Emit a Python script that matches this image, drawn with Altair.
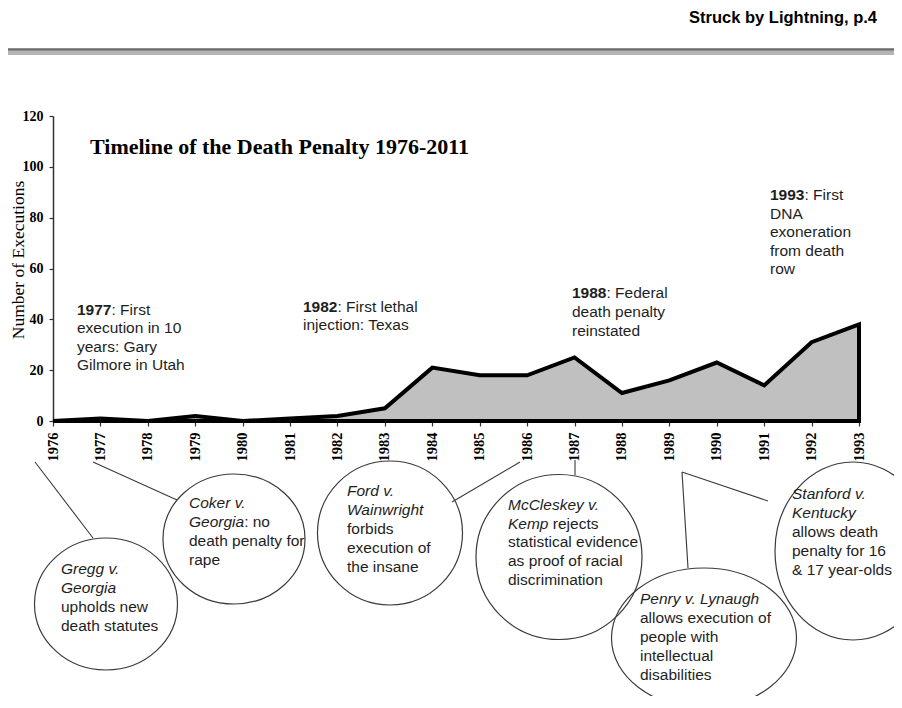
import altair as alt
import pandas as pd

# ---------------- data ----------------
years = list(range(1976, 1994))
executions = [0, 1, 0, 2, 0, 1, 2, 5, 21, 18, 18, 25, 11, 16, 23, 14, 31, 38]
y_ticks = [0, 20, 40, 60, 80, 100, 120]

header_text = "Struck by Lightning, p.4"
title_text = "Timeline of the Death Penalty 1976-2011"
y_title_text = "Number of Executions"

# event notes above the curve: lines of (text, style) segments
note_1977 = [[("1977", "bold"), (": First", "normal")], [("execution in 10", "normal")],
             [("years: Gary", "normal")], [("Gilmore in Utah", "normal")]]
note_1982 = [[("1982", "bold"), (": First lethal", "normal")], [("injection: Texas", "normal")]]
note_1988 = [[("1988", "bold"), (": Federal", "normal")], [("death penalty", "normal")],
             [("reinstated", "normal")]]
note_1993 = [[("1993", "bold"), (": First", "normal")], [("DNA", "normal")], [("exoneration", "normal")],
             [("from death", "normal")], [("row", "normal")]]

# court cases in the bubbles
case_gregg = [[("Gregg v.", "italic")], [("Georgia", "italic")], [("upholds new", "normal")],
              [("death statutes", "normal")]]
case_coker = [[("Coker v.", "italic")], [("Georgia", "italic"), (": no", "normal")],
              [("death penalty for", "normal")], [("rape", "normal")]]
case_ford = [[("Ford v.", "italic")], [("Wainwright", "italic")], [("forbids", "normal")],
             [("execution of", "normal")], [("the insane", "normal")]]
case_mccleskey = [[("McCleskey v.", "italic")], [("Kemp ", "italic"), ("rejects", "normal")],
                  [("statistical evidence", "normal")], [("as proof of racial", "normal")],
                  [("discrimination", "normal")]]
case_penry = [[("Penry v. Lynaugh", "italic")], [("allows execution of", "normal")],
              [("people with", "normal")], [("intellectual", "normal")], [("disabilities", "normal")]]
case_stanford = [[("Stanford v.", "italic")], [("Kentucky", "italic")], [("allows death", "normal")],
                 [("penalty for 16", "normal")], [("& 17 year-olds", "normal")]]

# ---------------- layout (page pixels) ----------------
OX, OY = 53, 116          # page position of plot-area origin
PW, PH = 806, 305         # plot area size
SANS = "Liberation Sans"
SERIF = "Liberation Serif"
FS = 15.5
INK = "#1e1e1e"
LINE = "#3a3a3a"

EM = {"0": .556, "1": .556, "2": .556, "3": .556, "4": .556, "5": .556, "6": .556, "7": .556,
      "8": .556, "9": .556, "G": .778, "e": .556, "o": .556, "r": .333, "g": .556, "i": .222,
      "a": .556, "K": .667, "m": .833, "p": .556, " ": .278}


def text_width(s):
    return sum(EM.get(c, .556) for c in s) * FS


text_blocks = [
    (note_1977, 77, [309.5, 328, 346.5, 365]),
    (note_1982, 303, [306.5, 325]),
    (note_1988, 572, [293, 312, 331]),
    (note_1993, 770, [195, 213.5, 232, 250.5, 269]),
    (case_gregg, 61, [568.5, 587.5, 606.5, 625.5]),
    (case_coker, 189, [503, 522, 541, 560]),
    (case_ford, 347, [491, 510, 529, 548, 567]),
    (case_mccleskey, 508, [505, 523.5, 542, 561, 579.5]),
    (case_penry, 640, [599, 618, 637, 656, 675]),
    (case_stanford, 792, [494, 513, 532, 551, 570]),
]

rows = []
for lines, x0, ys in text_blocks:
    for line, y in zip(lines, ys):
        x = x0
        for t, s in line:
            rows.append({"px": x - OX, "py": y - OY, "t": t.strip(), "s": s})
            x += text_width(t)
seg_df = pd.DataFrame(rows)

# bubbles: centre x, centre y, width, height (page px)
bubble_cx = [106, 234, 390, 559, 704, 853]
bubble_cy = [604, 539, 533, 557, 638, 551]
bubble_w = [143, 142, 145, 166, 185, 156]
bubble_h = [132, 130, 144, 165, 140, 178]


def ellipse_path(w, h):
    r = h / w
    return f"M -1 0 A 1 {r:.4f} 0 1 1 1 0 A 1 {r:.4f} 0 1 1 -1 0 Z"


bub_df = pd.DataFrame({
    "px": [c - OX for c in bubble_cx],
    "py": [c - OY for c in bubble_cy],
    "shape": [ellipse_path(w, h) for w, h in zip(bubble_w, bubble_h)],
    "sz": [w * w for w in bubble_w],
})

# connectors from year labels to bubbles (page px)
conn_x1 = [35, 93, 520, 575, 682, 682]
conn_y1 = [462, 462, 462, 460, 472, 472]
conn_x2 = [93, 177, 452, 575, 688, 768]
conn_y2 = [538, 500, 502, 475, 568, 501]
conn_df = pd.DataFrame({
    "px": [v - OX for v in conn_x1], "py": [v - OY for v in conn_y1],
    "px2": [v - OX for v in conn_x2], "py2": [v - OY for v in conn_y2],
})

df = pd.DataFrame({"year": years, "executions": executions})

# ---------------- chart ----------------
area = alt.Chart(df).mark_area(
    color="#c0c0c0", stroke="black", strokeWidth=4, strokeJoin="miter", opacity=1
).encode(
    x=alt.X("year:Q", scale=alt.Scale(domain=[1976, 1993], nice=False, zero=False),
            axis=alt.Axis(values=years, format="d", labelAngle=270, title=None, grid=False,
                          labelFont=SERIF, labelFontWeight="bold", labelFontSize=14.5,
                          labelColor="black", tickSize=5, labelPadding=6, tickColor="#333",
                          domainColor="#333", domainWidth=1.5, tickWidth=1.2)),
    y=alt.Y("executions:Q", scale=alt.Scale(domain=[0, 120], nice=False),
            axis=alt.Axis(values=y_ticks, title=None, grid=False, labelFont=SERIF,
                          labelFontWeight="bold", labelFontSize=14, labelColor="black",
                          tickSize=4, labelPadding=6, tickColor="#333", domainColor="#333",
                          domainWidth=1.5, tickWidth=1.2)),
)

PX = alt.X("px:Q", scale=None, axis=None)
PY = alt.Y("py:Q", scale=None, axis=None)


def seg_layer(style):
    kw = dict(align="left", baseline="middle", font=SANS, fontSize=FS, color=INK)
    if style == "bold":
        kw["fontWeight"] = "bold"
    if style == "italic":
        kw["fontStyle"] = "italic"
    return alt.Chart(seg_df).transform_filter(alt.datum.s == style).mark_text(**kw).encode(
        x=PX, y=PY, text="t:N")


bubbles = alt.Chart(bub_df).mark_point(
    filled=False, opacity=1, stroke=LINE, strokeWidth=1.2
).encode(x=PX, y=PY, shape=alt.Shape("shape:N", scale=None, legend=None),
         size=alt.Size("sz:Q", scale=None, legend=None))

connectors = alt.Chart(conn_df).mark_rule(color=LINE, strokeWidth=1.1).encode(
    x=PX, y=PY, x2="px2:Q", y2="py2:Q")

header = alt.Chart(pd.DataFrame({"px": [877 - OX], "py": [17.5 - OY], "t": [header_text]})).mark_text(
    align="right", baseline="middle", font=SANS, fontSize=16.5, fontWeight="bold", color="black"
).encode(x=PX, y=PY, text="t:N")

rule_df = pd.DataFrame({"px": [8 - OX, 8 - OX], "px2": [894 - OX, 894 - OX],
                        "py": [49.5 - OY, 53 - OY], "w": ["dark", "light"]})
header_dark = alt.Chart(rule_df).transform_filter(alt.datum.w == "dark").mark_rule(
    color="#6a6a6a", strokeWidth=2.5).encode(x=PX, x2="px2:Q", y=PY)
header_light = alt.Chart(rule_df).transform_filter(alt.datum.w == "light").mark_rule(
    color="#b4b4b4", strokeWidth=4).encode(x=PX, x2="px2:Q", y=PY)

title = alt.Chart(pd.DataFrame({"px": [90 - OX], "py": [147 - OY], "t": [title_text]})).mark_text(
    align="left", baseline="middle", font=SERIF, fontSize=22, fontWeight="bold", color="black"
).encode(x=PX, y=PY, text="t:N")

ytitle = alt.Chart(pd.DataFrame({"px": [18.5 - OX], "py": [260 - OY], "t": [y_title_text]})).mark_text(
    align="center", baseline="middle", font=SERIF, fontSize=17.5, angle=270, color="black"
).encode(x=PX, y=PY, text="t:N")

chart = alt.layer(
    area, header_light, header_dark, header, title, ytitle, connectors, bubbles,
    seg_layer("normal"), seg_layer("bold"), seg_layer("italic"),
).properties(
    width=PW, height=PH,
    padding={"left": 45, "top": 108, "right": 35, "bottom": 275},
    autosize=alt.AutoSizeParams(type="none"),
    background="white",
).configure_view(stroke=None)

chart.save("out.html", embed_options={"renderer": "svg", "actions": False})
